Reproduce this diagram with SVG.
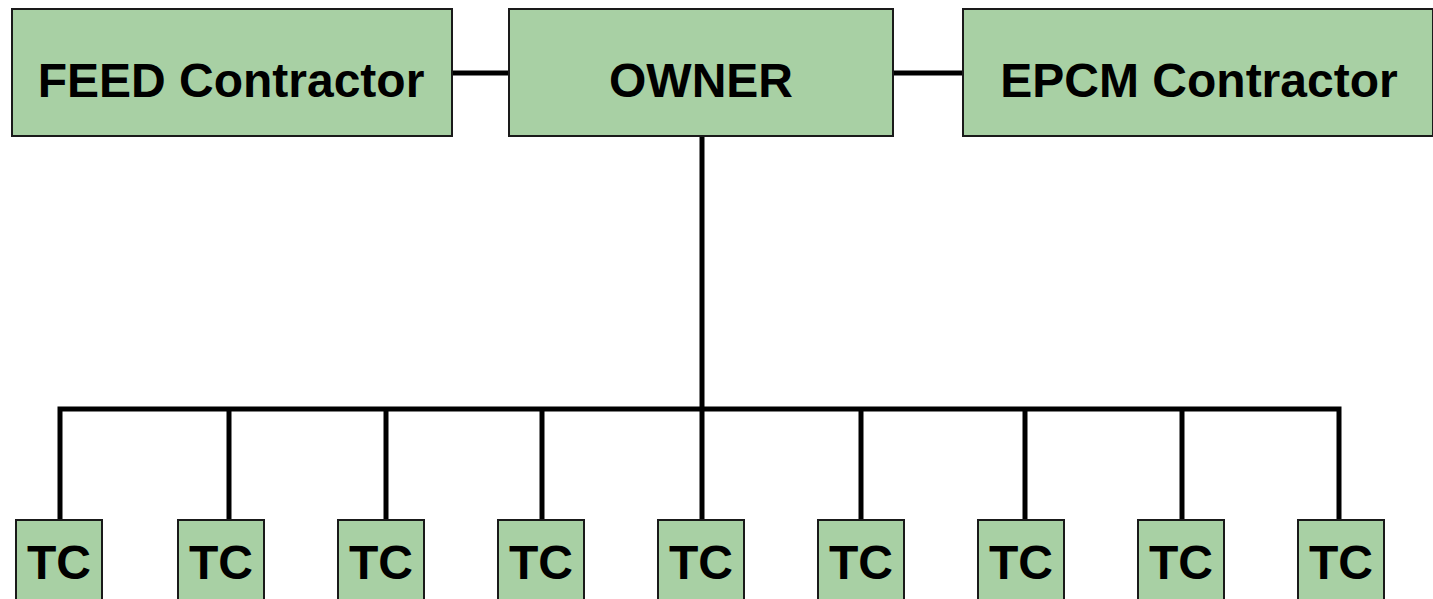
<svg xmlns="http://www.w3.org/2000/svg" width="1433" height="599" viewBox="0 0 1433 599">
  <style>
    .box { fill: #a8d0a4; stroke: #1a1a1a; stroke-width: 2; }
    .lbl { font-family: "Liberation Sans", Arial, sans-serif; font-weight: bold; font-size: 48px; fill: #000; text-anchor: middle; }
    .wire { fill: none; stroke: #000; stroke-width: 5; stroke-linecap: butt; }
  </style>
  <rect width="1433" height="599" fill="#ffffff"/>

  <!-- connectors -->
  <g id="connectors">
    <line class="wire" x1="452" y1="73" x2="509" y2="73"/>
    <line class="wire" x1="893" y1="73" x2="963" y2="73"/>
    <line class="wire" x1="702" y1="136" x2="702" y2="523"/>
    <path class="wire" d="M60 521 V409 H1339 V521"/>
    <line class="wire" x1="229" y1="409" x2="229" y2="521"/>
    <line class="wire" x1="386" y1="409" x2="386" y2="521"/>
    <line class="wire" x1="542" y1="409" x2="542" y2="521"/>
    <line class="wire" x1="861" y1="409" x2="861" y2="521"/>
    <line class="wire" x1="1025" y1="409" x2="1025" y2="521"/>
    <line class="wire" x1="1182" y1="409" x2="1182" y2="521"/>
  </g>

  <!-- top row -->
  <g id="feed">
    <rect class="box" x="12" y="9" width="440" height="127"/>
    <text class="lbl" x="231" y="97">FEED Contractor</text>
  </g>
  <g id="owner">
    <rect class="box" x="509" y="9" width="384" height="127"/>
    <text class="lbl" x="701" y="97">OWNER</text>
  </g>
  <g id="epcm">
    <rect class="box" x="963" y="9" width="470" height="127"/>
    <text class="lbl" x="1199" y="97">EPCM Contractor</text>
  </g>

  <!-- trade contractors -->
  <g id="tc1"><rect class="box" x="16" y="520" width="86" height="90"/><text class="lbl" x="59" y="579">TC</text></g>
  <g id="tc2"><rect class="box" x="178" y="520" width="86" height="90"/><text class="lbl" x="221" y="579">TC</text></g>
  <g id="tc3"><rect class="box" x="338" y="520" width="86" height="90"/><text class="lbl" x="381" y="579">TC</text></g>
  <g id="tc4"><rect class="box" x="498" y="520" width="86" height="90"/><text class="lbl" x="541" y="579">TC</text></g>
  <g id="tc5"><rect class="box" x="658" y="520" width="86" height="90"/><text class="lbl" x="701" y="579">TC</text></g>
  <g id="tc6"><rect class="box" x="818" y="520" width="86" height="90"/><text class="lbl" x="861" y="579">TC</text></g>
  <g id="tc7"><rect class="box" x="978" y="520" width="86" height="90"/><text class="lbl" x="1021" y="579">TC</text></g>
  <g id="tc8"><rect class="box" x="1138" y="520" width="86" height="90"/><text class="lbl" x="1181" y="579">TC</text></g>
  <g id="tc9"><rect class="box" x="1298" y="520" width="86" height="90"/><text class="lbl" x="1341" y="579">TC</text></g>
</svg>
